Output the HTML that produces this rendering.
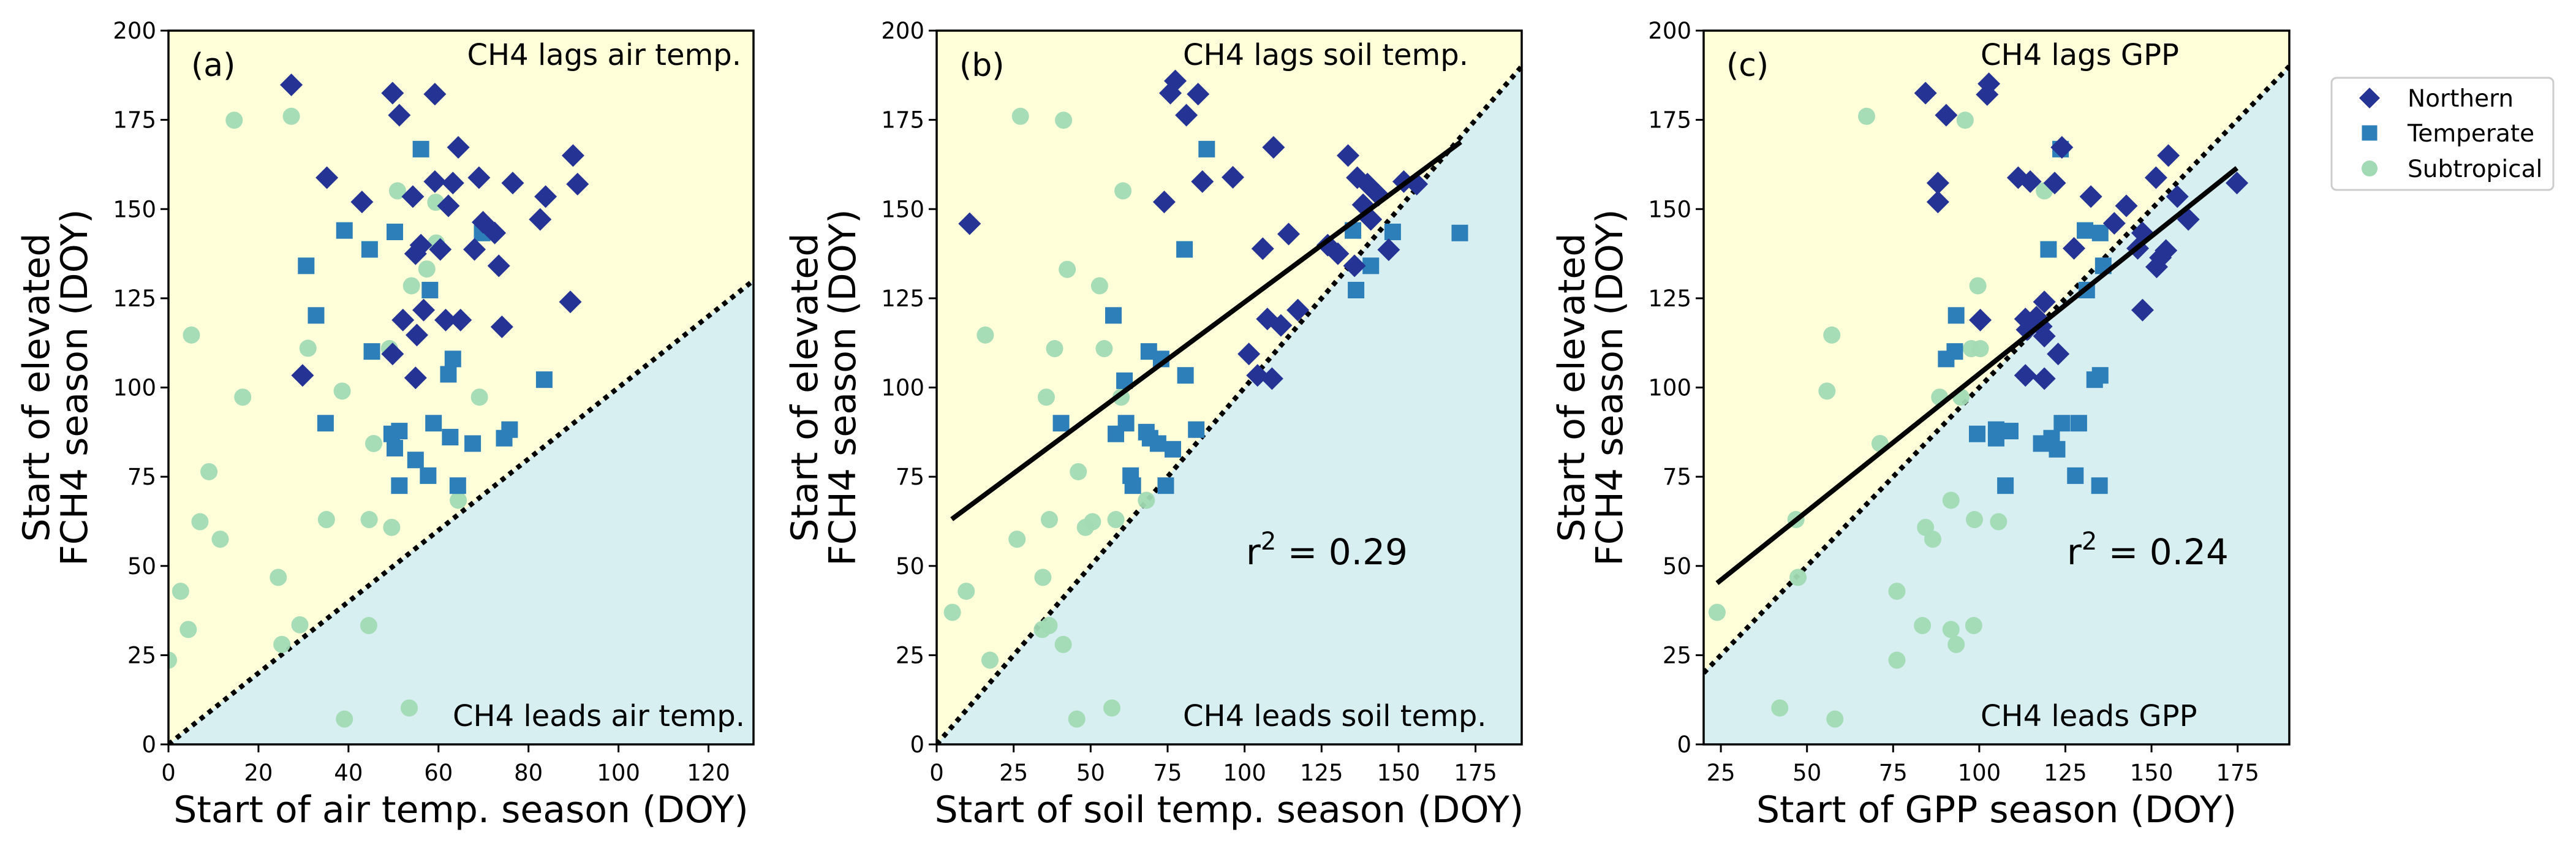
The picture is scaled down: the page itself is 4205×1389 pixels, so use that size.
<!DOCTYPE html>
<html><head><meta charset="utf-8">
<style>
html,body{margin:0;padding:0;background:#fff;}
svg{display:block;font-family:"DejaVu Sans","Liberation Sans",sans-serif;}
</style></head>
<body>
<svg id="fig" width="4205" height="1389" viewBox="0 0 4205 1389" xmlns="http://www.w3.org/2000/svg"></svg>
<script>
// ---- Panel (a): air temp ----
const aNorthX=[27.3,49.8,59.2,51.3,64.4,89.9,35.2,59.2,63.2,69,76.5,90.9,54.3,83.8,43,62.2,82.6,69.9,72.5,56.1,54.9,60.4,68,73.4,89.3,56.7,52.1,61.6,64.9,74.1,55.2,49.8,29.8,54.9];
const aNorthY=[184.8,182.5,182.2,176.3,167.3,165,158.8,157.7,157.3,158.8,157.3,157,153.5,153.5,152,150.9,147.1,146.3,143.3,139.9,137.5,138.7,138.7,134.1,124,121.7,118.9,118.9,118.9,117,114.7,109.4,103.4,102.7];
const aTempX=[56.1,39.1,50.3,69.7,44.7,30.6,58.1,32.8,45.2,63.2,62.2,83.5,34.9,58.9,49.6,51.3,75.8,74.6,62.6,67.6,50.3,54.9,57.7,51.3,64.3];
const aTempY=[166.8,144,143.6,143.3,138.7,134.1,127.3,120.2,110.1,108,103.7,102.2,90,90,87,87.8,88.2,85.8,86.1,84.3,83,79.7,75.3,72.5,72.5];
const aSubX=[14.6,27.3,50.9,59.4,59.5,57.4,54,5.1,31,49.1,38.6,16.5,69.1,9,45.6,64.4,7,35.1,44.6,49.6,11.5,24.4,2.7,4.4,29.2,44.5,25.2,0,39.1,53.5];
const aSubY=[174.9,176,155.1,151.9,140.5,133.2,128.5,114.7,111,110.9,99,97.3,97.3,76.4,84.3,68.4,62.4,63,63,60.8,57.5,46.8,42.9,32.2,33.5,33.3,28,23.6,7.1,10.2];
// ---- Panel (b): soil temp ----
const bNorthX=[77.5,75.9,84.9,81.1,109.4,133.6,86.3,96.2,136.6,139.9,151.7,155.9,143.5,73.9,138.5,10.7,141,114.3,105.9,127,130.3,146.8,135.7,117.3,107.4,111.8,101.4,104.2,108.9];
const bNorthY=[185.9,182.5,182.2,176.3,167.3,165,157.7,158.9,158.8,157,157.7,157,153.9,152,151.2,145.9,147.1,143,138.9,139.9,137.5,138.6,134.1,121.7,119.2,117.4,109.4,103.4,102.5];
const bTempX=[87.7,80.5,135.2,148.1,169.9,141,136.2,57.4,68.9,72.9,61,80.8,40.4,61.5,58.2,68.1,84.3,69.3,71.9,76.7,63,63.7,74.4];
const bTempY=[166.8,138.7,144,143.6,143.3,134.1,127.3,120.2,110.1,108,101.9,103.4,90,90,87,87.5,88.2,85.8,84.3,82.7,75.3,72.5,72.5];
const bSubX=[27.2,41.2,60.5,42.4,52.9,15.8,38.3,54.4,35.6,59.9,46,68.1,36.6,58.2,50.6,48.3,26.1,34.5,9.6,5.1,36.5,34.3,41.1,17.3,56.9,45.5];
const bSubY=[176,174.9,155.1,133.1,128.5,114.7,110.9,110.9,97.3,97.3,76.4,68.4,63,63,62.4,60.8,57.5,46.8,42.9,37,33.3,32.2,28,23.6,10.2,7.1];
const bFitX=[4.9,170.2];
const bFitY=[63.1,168.8];
// ---- Panel (c): GPP ----
const cNorthX=[84.4,102.8,102.3,90.4,124,154.9,88,111.3,114.8,121.9,151.3,174.8,88,132.4,157.5,142.7,139.2,160.7,147.4,127.5,146,154.2,152.6,151.5,118.9,147.4,100.3,113.4,116.6,118,113.9,118.9,122.9,113.4,118.9];
const cNorthY=[182.5,185.1,182.1,176.3,167.3,165,157.3,158.8,157.7,157.3,158.8,157.3,152,153.5,153.5,150.9,146,147.1,143.3,139,139,138.4,136.4,133.8,124,121.7,118.9,119.2,119.7,117.1,116.2,114.4,109.4,103.4,102.5];
const cTempX=[123.6,130.7,135.1,120.1,136,131.2,93.3,92.9,90.4,133.5,135.1,99.4,104.9,109,104.9,124,128.9,118,121,122.6,127.9,107.6,134.9];
const cTempY=[166.8,144,143.3,138.7,134.1,127.3,120.2,110.1,108,102.2,103.4,87,88.2,87.8,85.8,90,90,84.3,85.8,82.7,75.3,72.5,72.5];
const cSubX=[67.3,95.9,118.9,99.6,57.2,97.7,100.3,55.8,88.5,94.7,71.2,91.8,98.6,105.6,84.4,86.5,46.8,47.4,76.1,23.9,83.5,91.8,98.4,93.3,76.1,42.1,58.1];
const cSubY=[176,174.9,155.1,128.5,114.7,110.9,110.9,99,97.3,97.3,84.3,68.4,63,62.4,60.8,57.5,63,46.8,42.9,37,33.3,32.2,33.3,28,23.6,10.2,7.1];
const cFitX=[23.9,174.8];
const cFitY=[45.2,161.5];
const yTicks=[0,25,50,75,100,125,150,175,200];
const aTicks=[0,20,40,60,80,100,120];
const bTicks=[0,25,50,75,100,125,150,175];
const cTicks=[25,50,75,100,125,150,175];

const NS='http://www.w3.org/2000/svg';
const svg=document.getElementById('fig');
function mk(tag,attrs,parent){const e=document.createElementNS(NS,tag);for(const k in attrs)e.setAttribute(k,attrs[k]);(parent||svg).appendChild(e);return e;}
const TOP=50,BOT=1215;
const COL_N='#253494',COL_T='#2c7fb8',COL_S='#a1dab4';

function panel(cfg){
  const g=mk('g',{});
  
  
  const sx=v=>cfg.L+(v-cfg.x0)/(cfg.x1-cfg.x0)*(cfg.R-cfg.L);
  const sy=v=>BOT-(v/200)*(BOT-TOP);
  const cid='clip'+cfg.id;
  const cp=mk('clipPath',{id:cid},g);mk('rect',{x:cfg.L,y:TOP,width:cfg.R-cfg.L,height:BOT-TOP},cp);
  const bg=mk('rect',{x:cfg.L,y:TOP,width:cfg.R-cfg.L,height:BOT-TOP,fill:'#d8eff2'},g);
  
  
  const pts=[[cfg.x0,cfg.x0],[cfg.x1,cfg.x1],[cfg.x1,200],[cfg.x0,200]].map(p=>sx(p[0])+','+sy(p[1])).join(' ');
  const lag=mk('polygon',{points:pts,fill:'#ffffd9','clip-path':'url(#'+cid+')'},g);
  
  
  const oneone=mk('line',{x1:sx(cfg.x0),y1:sy(cfg.x0),x2:sx(cfg.x1),y2:sy(cfg.x1),stroke:'#000','stroke-width':8,'stroke-dasharray':'8 8.5','clip-path':'url(#'+cid+')'},g);
  
  
  const mg=mk('g',{'clip-path':'url(#'+cid+')'},g);
  cfg.sub[0].forEach((x,i)=>{const c=mk('circle',{cx:sx(x),cy:sy(cfg.sub[1][i]),r:14,fill:COL_S,'fill-opacity':0.95},mg);
    
    });
  cfg.temp[0].forEach((x,i)=>{const X=sx(x),Y=sy(cfg.temp[1][i]);const r=mk('rect',{x:X-13.5,y:Y-13.5,width:27,height:27,fill:COL_T},mg);
    
    });
  cfg.north[0].forEach((x,i)=>{const X=sx(x),Y=sy(cfg.north[1][i]);const p=mk('polygon',{points:`${X},${Y-18.5} ${X+18.5},${Y} ${X},${Y+18.5} ${X-18.5},${Y}`,fill:COL_N},mg);
    
    });
  if(cfg.fit){const l=mk('line',{x1:sx(cfg.fit[0][0]),y1:sy(cfg.fit[1][0]),x2:sx(cfg.fit[0][1]),y2:sy(cfg.fit[1][1]),stroke:'#000','stroke-width':8},g);
    
    }
  const fr=mk('rect',{x:cfg.L,y:TOP,width:cfg.R-cfg.L,height:BOT-TOP,fill:'none',stroke:'#000','stroke-width':3.5},g);
  
  
  yTicks.forEach(v=>{mk('line',{x1:cfg.L-13,y1:sy(v),x2:cfg.L,y2:sy(v),stroke:'#000','stroke-width':3},g);
    const t=mk('text',{x:cfg.L-20,y:sy(v)+13,'text-anchor':'end','font-size':37},g);t.textContent=v;
    
    });
  cfg.ticks.forEach(v=>{mk('line',{x1:sx(v),y1:BOT,x2:sx(v),y2:BOT+13,stroke:'#000','stroke-width':3},g);
    const t=mk('text',{x:sx(v),y:BOT+59,'text-anchor':'middle','font-size':37},g);t.textContent=v;
    
    });
  const xl=mk('text',{x:(cfg.L+cfg.R)/2,y:1342,'text-anchor':'middle','font-size':60},g);xl.textContent=cfg.xlabel;
  
  
  const cy=(TOP+BOT)/2;
  [['Start of elevated',cfg.L-195],['FCH4 season (DOY)',cfg.L-133]].forEach(a=>{
    const t=mk('text',{x:a[1],y:cy,'text-anchor':'middle','font-size':60,transform:`rotate(-90 ${a[1]} ${cy})`},g);t.textContent=a[0];
    
    });
  const pl=mk('text',{x:cfg.L+37,y:124,'font-size':52},g);pl.textContent=cfg.letter;
  
  
  const lg=mk('text',Object.assign({y:106,'font-size':48},cfg.lagPos),g);lg.textContent=cfg.lag;
  
  
  const ld=mk('text',{x:cfg.leadX,y:1185,'font-size':48},g);ld.textContent=cfg.lead;
  
  
  if(cfg.r2){const t=mk('text',{x:cfg.r2x,y:921,'font-size':58},g);
    
    
    t.innerHTML='r<tspan dy="-24" font-size="40">2</tspan><tspan dy="24"> = '+cfg.r2+'</tspan>';}
}
panel({id:'a',name:'panel-a',L:275,R:1230,x0:0,x1:130,ticks:aTicks,north:[aNorthX,aNorthY],temp:[aTempX,aTempY],sub:[aSubX,aSubY],
  xlabel:'Start of air temp. season (DOY)',letter:'(a)',lag:'CH4 lags air temp.',lagPos:{x:1210,'text-anchor':'end'},lead:'CH4 leads air temp.',leadX:739});
panel({id:'b',name:'panel-b',L:1529,R:2484,x0:0,x1:190,ticks:bTicks,north:[bNorthX,bNorthY],temp:[bTempX,bTempY],sub:[bSubX,bSubY],fit:[bFitX,bFitY],
  xlabel:'Start of soil temp. season (DOY)',letter:'(b)',lag:'CH4 lags soil temp.',lagPos:{x:1931},lead:'CH4 leads soil temp.',leadX:1931,r2:'0.29',r2x:2034});
panel({id:'c',name:'panel-c',L:2781,R:3737,x0:20,x1:190,ticks:cTicks,north:[cNorthX,cNorthY],temp:[cTempX,cTempY],sub:[cSubX,cSubY],fit:[cFitX,cFitY],
  xlabel:'Start of GPP season (DOY)',letter:'(c)',lag:'CH4 lags GPP',lagPos:{x:3233},lead:'CH4 leads GPP',leadX:3233,r2:'0.24',r2x:3374});

// legend
const lg=mk('g',{});


mk('rect',{x:3806,y:127,width:362,height:183,rx:8,fill:'#fff',stroke:'#cccccc','stroke-width':3},lg);
[['Northern',160,'d'],['Temperate',217,'s'],['Subtropical',275,'c']].forEach(e=>{
  const X=3868,Y=e[1];
  const eg=mk('g',{},lg);
  
  
  if(e[2]=='d')mk('polygon',{points:`${X},${Y-17} ${X+17},${Y} ${X},${Y+17} ${X-17},${Y}`,fill:COL_N},eg);
  else if(e[2]=='s')mk('rect',{x:X-12.5,y:Y-12.5,width:25,height:25,fill:COL_T},eg);
  else mk('circle',{cx:X,cy:Y,r:13,fill:COL_S},eg);
  const t=mk('text',{x:3930,y:Y+14,'font-size':39},eg);t.textContent=e[0];
});
</script>
</body></html>
